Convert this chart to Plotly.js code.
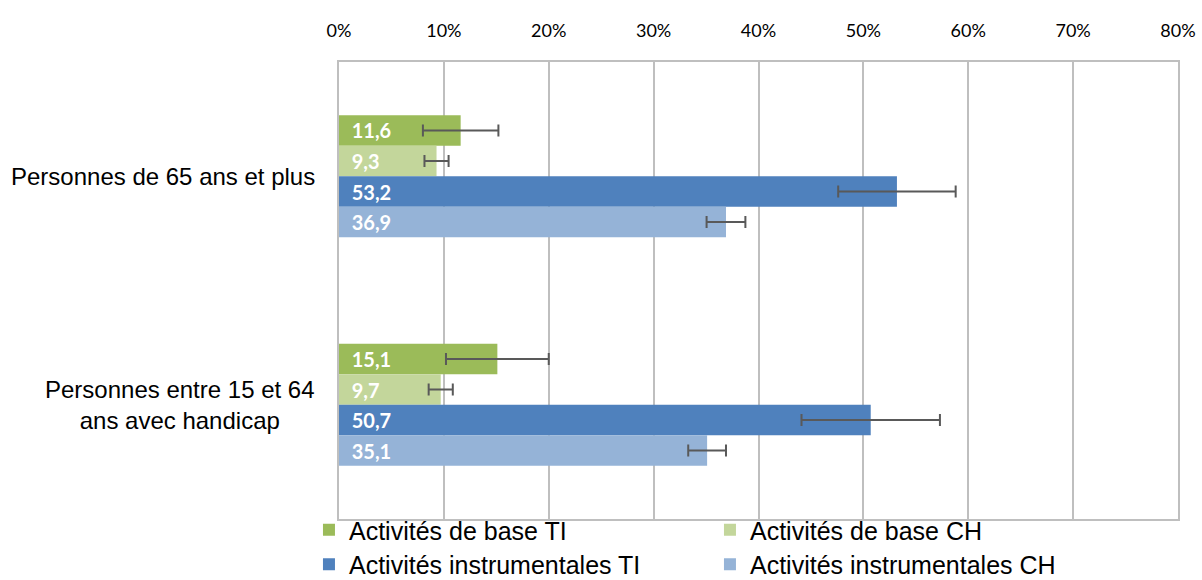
<!DOCTYPE html>
<html>
<head>
<meta charset="utf-8">
<script src="https://cdn.plot.ly/plotly-3.0.1.min.js"></script>
<style>html,body{margin:0;padding:0;background:#fff;}#chart{width:1202px;height:580px;}</style>
</head>
<body>
<div id="chart"></div>
<script>
var categories = ["Personnes de 65 ans et plus", "Personnes entre 15 et 64<br>ans avec handicap"];
var seriesNames = ["Activités de base TI", "Activités de base CH", "Activités instrumentales TI", "Activités instrumentales CH"];
var baseTI = [11.6, 15.1];
var baseCH = [9.3, 9.7];
var instrTI = [53.2, 50.7];
var instrCH = [36.9, 35.1];
var errBaseTI = [3.6, 4.9];
var errBaseCH = [1.15, 1.15];
var errInstrTI = [5.6, 6.6];
var errInstrCH = [1.85, 1.8];
var tickVals = [0, 10, 20, 30, 40, 50, 60, 70, 80];
var tickText = ["0%", "10%", "20%", "30%", "40%", "50%", "60%", "70%", "80%"];

var colors = ["#9BBB59", "#C3D69B", "#4F81BD", "#95B3D7"];
var values = [baseTI, baseCH, instrTI, instrCH];
var errs = [errBaseTI, errBaseCH, errInstrTI, errInstrCH];
var legends = ["legend", "legend", "legend2", "legend2"];

var traces = values.map(function (v, i) {
  return {
    type: "bar",
    orientation: "h",
    name: seriesNames[i],
    y: categories,
    x: v,
    legend: legends[i],
    marker: { color: colors[i], line: { width: 0 } },
    error_x: { type: "data", array: errs[i], visible: true, color: "#595959", thickness: 2, width: 6 },
    texttemplate: "\u00A0\u00A0%{x:.1f}",
    textposition: "inside",
    insidetextanchor: "start",
    textangle: 0,
    constraintext: "none",
    textfont: { family: "Lato, sans-serif", size: 20, color: "#ffffff", weight: "bold" },
    hoverinfo: "x+name"
  };
});

var annotations = categories.map(function (c) {
  return {
    xref: "paper", yref: "y", x: 0, y: c, xanchor: "right", yanchor: "middle",
    xshift: -22, text: c, showarrow: false, align: "center",
    font: { family: "Liberation Sans, Arial, sans-serif", size: 24, color: "#000000" }
  };
});

var legendFont = { family: "Liberation Sans, Arial, sans-serif", size: 25, color: "#000000" };

var layout = {
  width: 1202, height: 580,
  margin: { l: 339, r: 24, t: 62, b: 61, autoexpand: false },
  paper_bgcolor: "#ffffff", plot_bgcolor: "#ffffff",
  separators: ", ",
  barmode: "group",
  bargap: 0.466,
  bargroupgap: 0,
  showlegend: true,
  xaxis: {
    side: "top", range: [0, 80], tickvals: tickVals, ticktext: tickText,
    showgrid: true, gridcolor: "#BFBFBF", gridwidth: 2,
    showline: true, linecolor: "#BFBFBF", linewidth: 2, mirror: true,
    zeroline: false, ticks: "", ticklabelstandoff: 16,
    tickfont: { family: "Lato, sans-serif", size: 18, color: "#000000" },
    fixedrange: true
  },
  yaxis: {
    type: "category", autorange: "reversed", showticklabels: false,
    showline: true, linecolor: "#BFBFBF", linewidth: 2, mirror: true,
    showgrid: false, zeroline: false, ticks: "", fixedrange: true
  },
  legend: {
    orientation: "h", x: -0.0358, xref: "paper", xanchor: "left", y: -0.0744, yanchor: "bottom",
    entrywidth: 356, entrywidthmode: "pixels", font: legendFont,
    bgcolor: "rgba(0,0,0,0)", itemclick: false, itemdoubleclick: false
  },
  legend2: {
    orientation: "h", x: -0.0358, xref: "paper", xanchor: "left", y: -0.0494, yanchor: "top",
    entrywidth: 356, entrywidthmode: "pixels", font: legendFont,
    bgcolor: "rgba(0,0,0,0)", itemclick: false, itemdoubleclick: false
  },
  annotations: annotations
};

Plotly.newPlot("chart", traces, layout, { displayModeBar: false, staticPlot: true });
</script>
</body>
</html>
